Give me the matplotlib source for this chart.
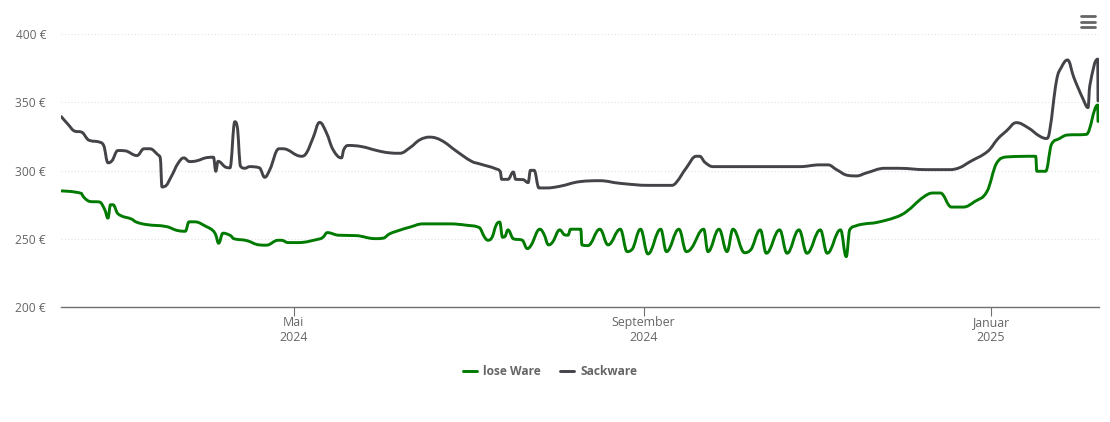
import matplotlib
matplotlib.use("Agg")
import matplotlib.pyplot as plt
from matplotlib.path import Path
from matplotlib.patches import PathPatch
from matplotlib.lines import Line2D

# days since 1 May 2024, price in euro
lose_days = [-81.7,-74.6,-73.5,-71.7,-68.2,-66.4,-65.3,-64.4,-63.5,-61.8,-57,-55.3,-51.8,-44.7,-40.7,-38.1,-36.8,-34.8,-30.7,-28.4,-27.4,-26.4,-24.9,-22.2,-21.1,-16.6,-12,-9.6,-5.5,-4.3,-2,1.5,9.1,10.3,11.8,15.6,22,28.5,31.4,33.7,37.3,40.8,45.4,54.8,60.7,65.4,67.1,68.3,69.5,71.2,72.4,73.4,74.2,75.3,77.1,80.4,82.1,83.5,86.5,87.9,89.6,91.1,93.5,95.3,96.4,97.3,100.9,101.3,103.4,107.6,110.5,114.8,117.2,118.7,121.9,124.5,129,131,135.4,138,139.8,144.1,145.6,149.5,152.3,154.4,158.5,160.3,164,166.1,170.8,173.4,177.6,180.4,185.1,187.5,192.2,194.2,195.4,197.7,200.7,204.8,211.8,215.4,221.2,224.7,227.3,231.2,235.3,239.4,243.7,247,250.5,260.8,261.2,264.3,266.3,269.2,271.6,278.6,282.6,282.7]
lose_price = [285.1,283.3,279.9,277.4,277,271.3,265.2,275,275,268.4,264.5,262.3,260.5,259,256.1,255.6,262.5,262.5,259,256.1,252.9,246.8,254.2,252.4,250.2,248.8,245.6,245.4,249,249,247.3,247.3,250,251.2,254.6,252.7,252.4,250.2,250.5,253.7,256.4,258.6,261,261,260,258.1,251.2,249,250.5,260.3,262.3,251.2,251.7,256.6,250.2,249,242.9,245.6,257.1,253.7,245.6,248,256.6,252.9,252.7,257.1,257.1,245.6,245.1,257.1,245.6,257.1,240.7,241.9,257.1,239,257.1,240.7,257.1,240.7,243.2,257.1,240.7,257.1,240.7,257.1,239.9,241.4,256.6,239.5,256.6,239.5,256.6,239.5,256.6,239.5,256.6,237,256.6,259.6,261,262,266,270,280.4,283.6,283.6,273.3,273.3,277.4,284.8,305.2,310,310.5,299.5,299.5,319.1,323.5,326,326.5,348,336]

sack_days = [-81.7,-79.3,-77,-74.6,-72.3,-68.2,-66.8,-65.3,-64.1,-61.8,-59.4,-55.1,-52.6,-50.6,-47.7,-46.9,-46.3,-45.3,-43,-40.7,-38.6,-36.6,-34.2,-30.1,-28.2,-27.4,-26.6,-23.7,-22.4,-20.7,-19.9,-18.7,-17.2,-15.5,-12,-10.2,-8.4,-5.2,-3.8,2.7,4.5,6.8,9.1,11.5,13.8,16.8,17.6,19.1,23.8,29.6,33.7,37.3,41,44.3,47.8,52,57.2,62.5,65.4,71.2,72.7,73.1,75.3,77.2,78,80.6,82.4,83.2,84.5,86.2,88.8,93.5,100.5,107.6,114.6,125.1,132.8,134.5,138,141.5,142.7,144.5,147.4,160.3,177.9,184.9,187.8,190.8,194.8,197.8,201.3,207.8,212.4,222.4,230.6,234.1,237.6,244,247.5,250.5,254,258.1,262.2,264.6,265.7,268.1,269.8,272,274.2,277.5,279.2,279.8,282.6,282.7]
sack_price = [339.5,333.8,328.9,328.2,322.6,320.8,318.4,305.7,306.8,314.7,314.5,311,316,316,311.5,309.3,288,288.5,295.8,305.2,309.3,306.6,307.1,309.6,309.8,299.5,306.8,302.4,302,335.8,332.6,303.2,301.7,302.9,302,295.1,300.7,316,316,310.5,313,324,335.3,327.7,315.4,309.3,315.4,318.4,317.6,314.5,313,312.7,317,322.5,324.5,322,314.2,306.8,304.9,301.2,298.8,293.6,293.6,299,293.6,293.4,291.2,300.2,300.2,287.3,287.3,288.5,291.9,292.6,290.7,289.2,289.2,291.4,302,310.5,310.5,306.1,302.9,302.9,302.9,304.2,304.2,300.7,296.5,296.1,298.3,301.7,301.7,300.7,300.7,302.2,306.4,314.2,323.3,329,335.1,331.4,325.2,323.5,328.9,365.7,375.5,381,368.2,352.2,346.1,362,381.6,351]

tick_days = [0, 123, 245]
tick_labels = ["Mai\n2024", "September\n2024", "Januar\n2025"]
y_ticks = [200, 250, 300, 350, 400]
series_names = ["lose Ware", "Sackware"]

GREEN = "#007a00"
GREY = "#434348"
TXT = "#666666"
FONT = "Open Sans"
plt.rcParams["font.family"] = [FONT, "DejaVu Sans"]


def spline_path(xs, ys, smoothing=1.5):
    """Cubic path through the data points, same construction as a chart spline."""
    d = smoothing + 1
    n = len(xs)
    left, right = [None] * n, [None] * n
    for i in range(1, n - 1):
        x, y = xs[i], ys[i]
        lx, ly = xs[i - 1], ys[i - 1]
        nx, ny = xs[i + 1], ys[i + 1]
        lcx, lcy = (smoothing * x + lx) / d, (smoothing * y + ly) / d
        rcx, rcy = (smoothing * x + nx) / d, (smoothing * y + ny) / d
        corr = (rcy - lcy) * (rcx - x) / (rcx - lcx) + y - rcy
        lcy += corr
        rcy += corr
        if lcy > ly and lcy > y:
            lcy = max(ly, y)
            rcy = 2 * y - lcy
        elif lcy < ly and lcy < y:
            lcy = min(ly, y)
            rcy = 2 * y - lcy
        if rcy > ny and rcy > y:
            rcy = max(ny, y)
            lcy = 2 * y - rcy
        elif rcy < ny and rcy < y:
            rcy = min(ny, y)
            lcy = 2 * y - rcy
        left[i], right[i] = (lcx, lcy), (rcx, rcy)
    verts = [(xs[0], ys[0])]
    codes = [Path.MOVETO]
    for i in range(1, n):
        c1 = right[i - 1] or (xs[i - 1], ys[i - 1])
        c2 = left[i] or (xs[i], ys[i])
        verts += [c1, c2, (xs[i], ys[i])]
        codes += [Path.CURVE4] * 3
    return Path(verts, codes)


W, H = 1110, 422
fig = plt.figure(figsize=(W / 100, H / 100), dpi=100, facecolor="white")
L, R, T, B = 61, 1099, 34, 307.2
ax = fig.add_axes([L / W, 1 - B / H, (R - L) / W, (B - T) / H])
ax.set_xlim(-81.8, 283.05)
ax.set_ylim(200, 400)
for s in ["top", "left", "right"]:
    ax.spines[s].set_visible(False)
ax.spines["bottom"].set_color("#707070")
ax.spines["bottom"].set_linewidth(1.0)

ax.set_yticks(y_ticks)
ax.set_yticklabels([f"{v} €" for v in y_ticks])
ax.set_xticks(tick_days)
ax.set_xticklabels(tick_labels, linespacing=1.25)
ax.tick_params(axis="y", length=0, pad=10.8, labelsize=8.64, labelcolor=TXT)
ax.tick_params(axis="x", length=6.5, width=0.8, color="#707070", pad=-0.3, labelsize=8.9, labelcolor=TXT)
ax.grid(axis="y", color="#e2e2e2", linewidth=0.8, linestyle=(0, (1, 2)))
ax.set_axisbelow(True)

for xs, ys, col in [(lose_days, lose_price, GREEN), (sack_days, sack_price, GREY)]:
    ax.add_patch(PathPatch(spline_path(xs, ys), fill=False, edgecolor=col, linewidth=2.1,
                           capstyle="round", joinstyle="round", zorder=3))

handles = [Line2D([], [], color=c, linewidth=2.1, solid_capstyle="round") for c in (GREEN, GREY)]
ax.legend(handles, series_names, loc="center", bbox_to_anchor=(550 / W, 1 - 371.5 / H),
          bbox_transform=fig.transFigure, ncols=2, frameon=False, handlelength=1.17,
          handletextpad=0.5, columnspacing=1.67, prop={"family": FONT, "weight": "bold", "size": 8.64},
          labelcolor=TXT, borderpad=0, borderaxespad=0)

# menu button
for py in (16, 21.5, 26.7):
    fig.add_artist(Line2D([1081 / W, 1095 / W], [1 - py / H] * 2, color=TXT, linewidth=2.0,
                          solid_capstyle="round", transform=fig.transFigure))

fig.savefig("out.png", dpi=100)
